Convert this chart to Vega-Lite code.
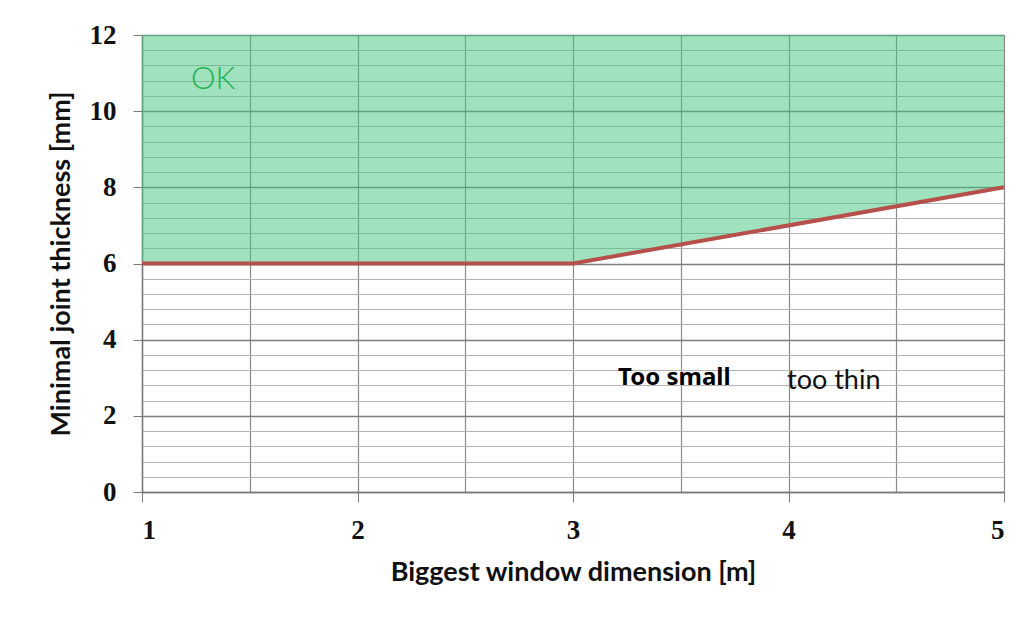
{
  "$schema": "https://vega.github.io/schema/vega-lite/v6.json",
  "width": 862,
  "height": 457,
  "autosize": "none",
  "padding": {"left": 142, "top": 35, "right": 30, "bottom": 131},
  "background": "white",
  "config": {"view": {"stroke": null}},
  "datasets": {
    "limit": [
      {"dim": 1, "thick": 6, "top": 12},
      {"dim": 3, "thick": 6, "top": 12},
      {"dim": 5, "thick": 8, "top": 12}
    ],
    "labels": [
      {"dim": 1.33, "thick": 10.82, "text": "OK", "kind": "ok"},
      {"dim": 3.47, "thick": 2.99, "text": "Too small", "kind": "small"},
      {"dim": 4.21, "thick": 2.91, "text": "too thin", "kind": "thin"}
    ]
  },
  "layer": [
    {
      "data": {"name": "limit"},
      "mark": {"type": "area", "color": "#41c37d", "opacity": 0.5},
      "encoding": {
        "x": {"field": "dim", "type": "quantitative", "scale": {"domain": [1, 5], "nice": false},
          "axis": {"orient": "top", "values": [1, 1.5, 2, 2.5, 3, 3.5, 4, 4.5, 5], "grid": true, "gridColor": "#8a8a8a", "gridWidth": 1.2,
            "labels": false, "ticks": false, "domain": false, "title": null}},
        "y": {"field": "thick", "type": "quantitative", "scale": {"domain": [0, 12], "nice": false},
          "axis": {"orient": "right", "values": [0,0.4,0.8,1.2,1.6,2,2.4,2.8,3.2,3.6,4,4.4,4.8,5.2,5.6,6,6.4,6.8,7.2,7.6,8,8.4,8.8,9.2,9.6,10,10.4,10.8,11.2,11.6,12],
            "grid": true, "gridColor": "#b4b4b4", "gridWidth": 1.2, "labels": false, "ticks": false, "domain": false, "title": null}},
        "y2": {"field": "top"}
      }
    },
    {
      "data": {"name": "limit"},
      "mark": {"type": "line", "color": "#b5504b", "strokeWidth": 4},
      "encoding": {
        "x": {"field": "dim", "type": "quantitative",
          "axis": {"orient": "bottom", "values": [1, 2, 3, 4, 5], "grid": false, "tickSize": 10, "tickColor": "#7a7a7a", "domainColor": "#7a7a7a", "domainWidth": 1.5,
            "labelFont": "Liberation Serif", "labelFontSize": 27, "labelFontWeight": "bold", "labelColor": "#111", "labelPadding": 15,
            "title": "Biggest window dimension [m]", "titleFont": "Lato", "titleFontSize": 27, "titleFontWeight": "bold", "titleColor": "#111", "titlePadding": 16}},
        "y": {"field": "thick", "type": "quantitative",
          "axis": {"orient": "left", "values": [0, 2, 4, 6, 8, 10, 12], "grid": true, "gridColor": "#7e7e7e", "gridWidth": 1.3, "tickSize": 9, "tickColor": "#7a7a7a", "domainColor": "#7a7a7a", "domainWidth": 1.5,
            "labelFont": "Liberation Serif", "labelFontSize": 27, "labelFontWeight": "bold", "labelColor": "#111", "labelPadding": 17,
            "title": "Minimal joint thickness [mm]", "titleFont": "Lato", "titleFontSize": 27, "titleFontWeight": "bold", "titleColor": "#111", "titlePadding": 14}}
      }
    },
    {
      "data": {"name": "labels"},
      "transform": [{"filter": "datum.kind == 'ok'"}],
      "mark": {"type": "text", "font": "Lato", "fontWeight": 300, "fontSize": 31, "color": "#1fb155"},
      "encoding": {"x": {"field": "dim", "type": "quantitative", "axis": null}, "y": {"field": "thick", "type": "quantitative", "axis": null}, "text": {"field": "text"}}
    },
    {
      "data": {"name": "labels"},
      "transform": [{"filter": "datum.kind == 'small'"}],
      "mark": {"type": "text", "font": "Noto Sans", "fontWeight": "bold", "fontSize": 24, "color": "#000"},
      "encoding": {"x": {"field": "dim", "type": "quantitative", "axis": null}, "y": {"field": "thick", "type": "quantitative", "axis": null}, "text": {"field": "text"}}
    },
    {
      "data": {"name": "labels"},
      "transform": [{"filter": "datum.kind == 'thin'"}],
      "mark": {"type": "text", "font": "Lato", "fontSize": 27, "color": "#111"},
      "encoding": {"x": {"field": "dim", "type": "quantitative", "axis": null}, "y": {"field": "thick", "type": "quantitative", "axis": null}, "text": {"field": "text"}}
    }
  ],
  "resolve": {"axis": {"x": "independent", "y": "independent"}}
}
